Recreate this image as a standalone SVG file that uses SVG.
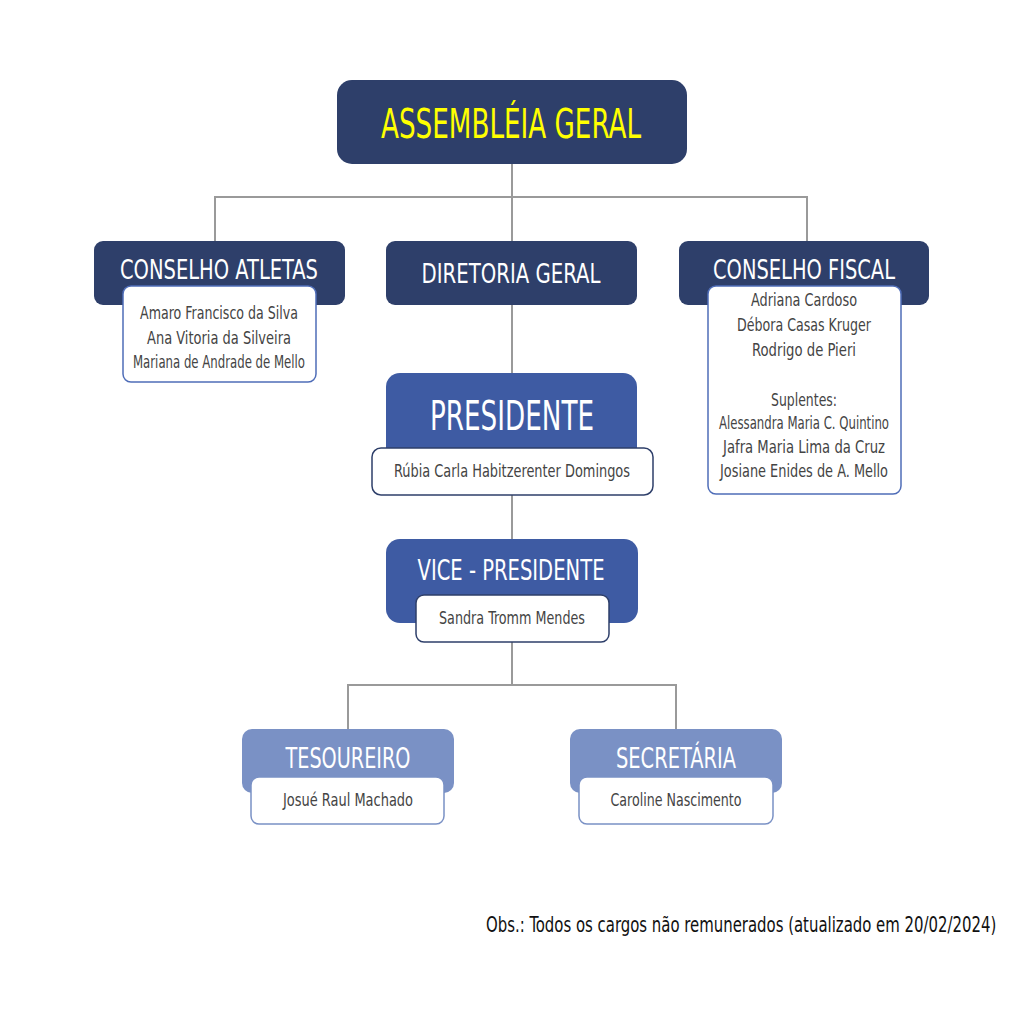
<svg xmlns="http://www.w3.org/2000/svg" width="1024" height="1018" viewBox="0 0 1024 1018">
<style>
.t{font-family:"Liberation Sans Narrow","DejaVu Sans Condensed","Liberation Sans",sans-serif;text-anchor:middle}
.dark{fill:#2E3F6A}
.mid{fill:#3E5BA3}
.light{fill:#7A91C5}
.h{fill:#ffffff}
.n{fill:#444444;font-size:17px}
.card{fill:#ffffff;stroke-width:1.5}
.conn{stroke:#9a9a9a;stroke-width:2;fill:none}
.foot{font-family:"DejaVu Sans Condensed","Liberation Sans",sans-serif;text-anchor:start;fill:#111111;font-size:21px}
</style>
<rect width="1024" height="1018" fill="#ffffff"/>
<g id="connectors">
<path class="conn" d="M512 164V197M215 241V197H807V241M512 197V241M512 305V373M512 495V540M512 642V685M348 730V685H676V730"/>
</g>
<g id="assembleia">
<rect class="dark" x="337" y="80" width="350" height="84" rx="15"/>
<text class="t" x="511" y="138" font-size="40" fill="#FFFF00" textLength="260" lengthAdjust="spacingAndGlyphs">ASSEMBLÉIA GERAL</text>
</g>
<g id="conselho-atletas">
<rect class="dark" x="94" y="241" width="251" height="64" rx="9"/>
<text class="t h" x="219" y="279" font-size="27" textLength="198" lengthAdjust="spacingAndGlyphs">CONSELHO ATLETAS</text>
<rect class="card" x="123" y="286" width="193" height="96" rx="8" stroke="#4F6DB8"/>
<text class="t n" x="219" y="319" textLength="158" lengthAdjust="spacingAndGlyphs">Amaro Francisco da Silva</text>
<text class="t n" x="219" y="344" textLength="144" lengthAdjust="spacingAndGlyphs">Ana Vitoria da Silveira</text>
<text class="t n" x="219" y="368" textLength="172" lengthAdjust="spacingAndGlyphs">Mariana de Andrade de Mello</text>
</g>
<g id="diretoria-geral">
<rect class="dark" x="386" y="241" width="251" height="64" rx="9"/>
<text class="t h" x="511" y="283" font-size="27" textLength="179" lengthAdjust="spacingAndGlyphs">DIRETORIA GERAL</text>
</g>
<g id="conselho-fiscal">
<rect class="dark" x="679" y="241" width="250" height="64" rx="9"/>
<text class="t h" x="804" y="279" font-size="27" textLength="182" lengthAdjust="spacingAndGlyphs">CONSELHO FISCAL</text>
<rect class="card" x="708" y="286" width="193" height="208" rx="8" stroke="#4F6DB8"/>
<text class="t n" x="804" y="306" textLength="106" lengthAdjust="spacingAndGlyphs">Adriana Cardoso</text>
<text class="t n" x="804" y="331" textLength="134" lengthAdjust="spacingAndGlyphs">Débora Casas Kruger</text>
<text class="t n" x="804" y="356" textLength="104" lengthAdjust="spacingAndGlyphs">Rodrigo de Pieri</text>
<text class="t n" x="804" y="406" textLength="66" lengthAdjust="spacingAndGlyphs">Suplentes:</text>
<text class="t n" x="804" y="429" textLength="170" lengthAdjust="spacingAndGlyphs">Alessandra Maria C. Quintino</text>
<text class="t n" x="804" y="453" textLength="162" lengthAdjust="spacingAndGlyphs">Jafra Maria Lima da Cruz</text>
<text class="t n" x="804" y="477" textLength="168" lengthAdjust="spacingAndGlyphs">Josiane Enides de A. Mello</text>
</g>
<g id="presidente">
<rect class="mid" x="386" y="373" width="251" height="100" rx="14"/>
<text class="t h" x="512" y="430" font-size="40" textLength="164" lengthAdjust="spacingAndGlyphs">PRESIDENTE</text>
<rect class="card" x="372" y="448" width="281" height="47" rx="9" stroke="#2E3F6A"/>
<text class="t n" x="512" y="477" textLength="236" lengthAdjust="spacingAndGlyphs">Rúbia Carla Habitzerenter Domingos</text>
</g>
<g id="vice-presidente">
<rect class="mid" x="386" y="539" width="252" height="84" rx="14"/>
<text class="t h" x="511" y="580" font-size="28" textLength="187" lengthAdjust="spacingAndGlyphs">VICE - PRESIDENTE</text>
<rect class="card" x="416" y="595" width="193" height="47" rx="8" stroke="#2E3F6A"/>
<text class="t n" x="512" y="624" textLength="146" lengthAdjust="spacingAndGlyphs">Sandra Tromm Mendes</text>
</g>
<g id="tesoureiro">
<rect class="light" x="242" y="729" width="212" height="64" rx="10"/>
<text class="t h" x="348" y="768" font-size="28" textLength="125" lengthAdjust="spacingAndGlyphs">TESOUREIRO</text>
<rect class="card" x="251" y="777" width="193" height="47" rx="8" stroke="#7A91C5"/>
<text class="t n" x="348" y="806" textLength="130" lengthAdjust="spacingAndGlyphs">Josué Raul Machado</text>
</g>
<g id="secretaria">
<rect class="light" x="570" y="729" width="212" height="64" rx="10"/>
<text class="t h" x="676" y="768" font-size="28" textLength="120" lengthAdjust="spacingAndGlyphs">SECRETÁRIA</text>
<rect class="card" x="579" y="777" width="194" height="47" rx="8" stroke="#7A91C5"/>
<text class="t n" x="676" y="806" textLength="131" lengthAdjust="spacingAndGlyphs">Caroline Nascimento</text>
</g>
<g id="footer" transform="translate(486,932) scale(0.7,1)">
<text class="foot" x="0" y="0" textLength="729" lengthAdjust="spacingAndGlyphs">Obs.: Todos os cargos não remunerados (atualizado em 20/02/2024)</text>
</g>
</svg>
